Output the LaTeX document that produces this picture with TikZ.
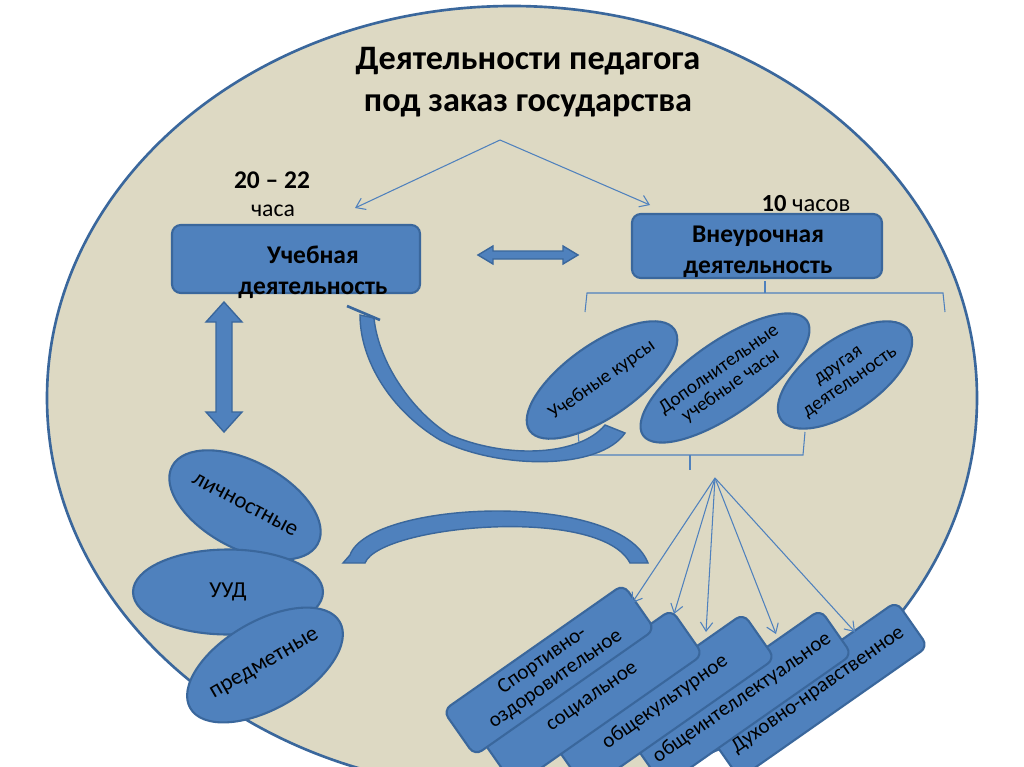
\documentclass[tikz,border=0pt]{standalone}
\usepackage{fontspec}
\setmainfont{Carlito}
\usetikzlibrary{shapes.geometric,arrows.meta}
\definecolor{bg}{HTML}{DDD9C3}
\definecolor{fillb}{HTML}{4F81BD}
\definecolor{edge}{HTML}{3A679C}
\begin{document}
\begin{tikzpicture}[x=0.02cm,y=-0.02cm,
 box/.style={draw=edge,line width=1.2pt,fill=fillb,rounded corners=5pt},
 ell/.style={ellipse,draw=edge,line width=1.2pt,fill=fillb,inner sep=0pt},
 bx/.style={draw=edge,line width=1.2pt,fill=fillb,rounded corners=5pt,minimum width=4.6cm,minimum height=1.1cm,rotate=35,align=center,font=\fontsize{12}{13}\selectfont},
 thin/.style={draw=fillb,line width=0.6pt},
 ar/.style={thin,-{Straight Barb[length=5pt,width=7pt]}},
 fat/.style={fill=fillb,draw=edge,line width=0.8pt}]
\useasboundingbox (0,0) rectangle (1024,767);
\fill[white] (0,0) rectangle (1024,767);
\begin{scope}
\clip (0,0) rectangle (1024,767);
\draw[fill=bg,draw=edge,line width=1.5pt] (512,398) ellipse [x radius=465, y radius=392];
\end{scope}
\node[font=\bfseries\fontsize{19.5}{24}\selectfont,align=center] (title) at (528,82) {Деятельности педагога\\под заказ государства};
\coordinate (split) at (500,140);
\draw[ar] (split) -- (355,208);
\draw[ar] (split) -- (650,205);
\node[font=\bfseries\fontsize{14.5}{16}\selectfont] (n20) at (272,180) {20 – 22};
\node[font=\fontsize{13.5}{16}\selectfont] (chasa) at (273,211) {часа};
\node[font=\fontsize{14}{16}\selectfont] (n10) at (806,204) {\textbf{10} часов};
\draw[box] (172,225) rectangle (420,293);
\node[font=\bfseries\fontsize{14.5}{17.5}\selectfont,align=center] (ucheb) at (313,272) {Учебная\\деятельность};
\draw[box] (632,214) rectangle (882,278);
\node[font=\bfseries\fontsize{14.5}{17.5}\selectfont,align=center] (vneur) at (758,252) {Внеурочная\\деятельность};
% horizontal double arrow
\draw[fat] (478,255) -- (493,246) -- (493,251) -- (563,251) -- (563,246) -- (578,255) -- (563,264) -- (563,259) -- (493,259) -- (493,264) -- cycle;
% vertical double arrow
\draw[fat] (224,302) -- (242,322) -- (232,322) -- (232,412) -- (242,412) -- (224,432) -- (206,412) -- (216,412) -- (216,322) -- (206,322) -- cycle;
% brackets
\draw[thin] (585,312) -- (587,293) -- (943,293) -- (945,312);
\draw[thin] (765,293) -- (765,281);
\draw[thin] (578,432) -- (580,455) -- (803,455) -- (805,432);
\draw[thin] (690,455) -- (690,470);
% ellipses
\node[ell,minimum width=2.95cm,minimum height=1.45cm,rotate=35,font=\fontsize{11}{12}\selectfont] (kursy) at (602,380) {Учебные курсы};
\node[ell,minimum width=2.95cm,minimum height=1.45cm,rotate=35,align=center,font=\fontsize{11}{11.5}\selectfont] (dop) at (725,378) {Дополнительные\\учебные часы};
\node[ell,minimum width=2.95cm,minimum height=1.45cm,rotate=35,align=center,font=\fontsize{11}{11.5}\selectfont] (drug) at (845,375) {другая\\деятельность};
% big curved arrow
\draw[fat] (625,433) .. controls (600,470) and (500,470) .. (440,440) .. controls (390,410) and (360,360) .. (360,315)
 -- (374,318) .. controls (378,360) and (410,410) .. (450,435) .. controls (510,460) and (580,455) .. (605,425) -- cycle;
\draw[edge,line width=1.5pt] (347,306) -- (380,320);
% lower arc
\draw[fat] (343,563) -- (365,563) .. controls (380,525) and (600,505) .. (630,563) -- (648,563) .. controls (620,490) and (370,500) .. (350,555) -- cycle;
% left ellipses
\node[ell,minimum width=3.3cm,minimum height=1.75cm,rotate=-28,font=\fontsize{13}{15}\selectfont] (lich) at (245,505) {личностные};
\node[ell,minimum width=3.8cm,minimum height=1.7cm,font=\fontsize{13}{15}\selectfont] (uud) at (228,592) {УУД};
\node[ell,minimum width=3.4cm,minimum height=1.75cm,rotate=30,font=\fontsize{13}{15}\selectfont] (pred) at (265,665) {предметные};
% bottom boxes
\coordinate (hub) at (715,478);
\begin{scope}
\clip (0,0) rectangle (1024,767);
\node[bx] (b5) at (818,690) {Духовно-нравственное};
\node[bx] (b4) at (742,698) {общеинтеллектуальное};
\node[bx] (b3) at (665,702) {общекультурное};
\node[bx] (b2) at (593,698) {социальное};
\node[bx,minimum width=4.4cm] (b1) at (549,670) {Спортивно-\\оздоровительное};
\end{scope}
\draw[ar] (hub) -- (632,603);
\draw[ar] (hub) -- (674,614);
\draw[ar] (hub) -- (706,632);
\draw[ar] (hub) -- (776,634);
\draw[ar] (hub) -- (855,632);
\end{tikzpicture}
\end{document}
